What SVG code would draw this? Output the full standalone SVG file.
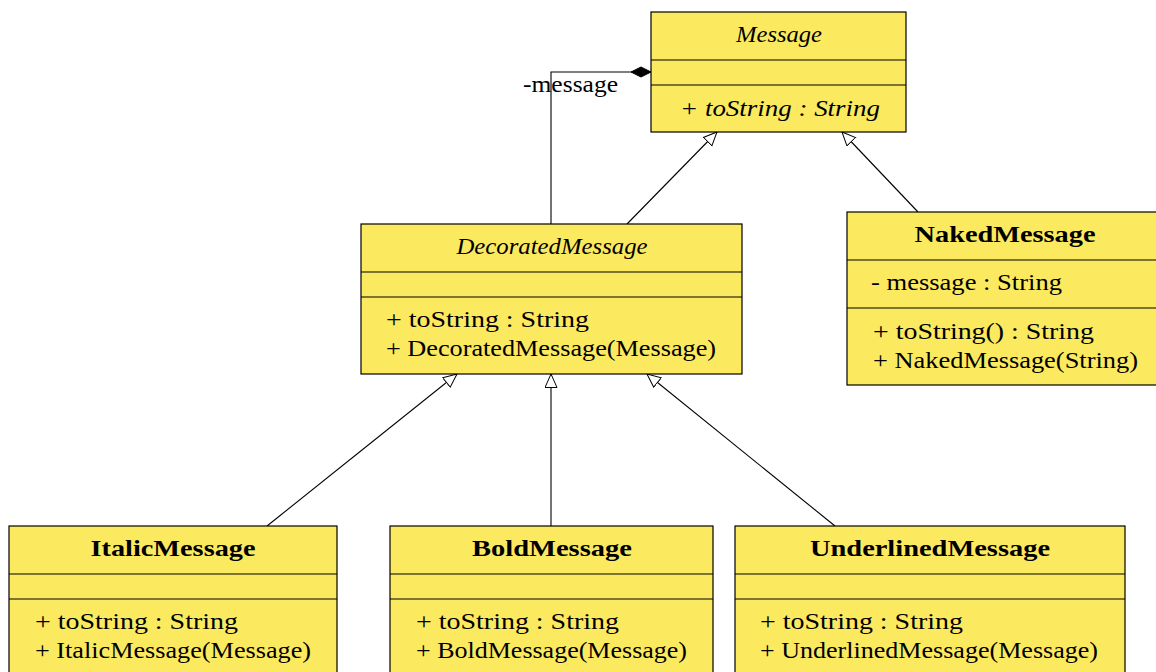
<svg xmlns="http://www.w3.org/2000/svg" width="1156" height="672" viewBox="0 0 1156 672">
<style>
.box{fill:#fbea5f;stroke:#000;stroke-width:1.2}
.div{stroke:#000;stroke-width:1.2}
text{font-family:"Liberation Serif","Times New Roman",serif;font-size:24px;fill:#000}
.t{text-anchor:middle}
.b{font-weight:bold}
.i{font-style:italic}
.edge{fill:none;stroke:#000;stroke-width:1.1}
</style>
<defs>
<marker id="tri" markerUnits="userSpaceOnUse" markerWidth="16" markerHeight="14" refX="14" refY="6.5" orient="auto">
<path d="M0.5,0.5 L14,6.5 L0.5,12.5 z" fill="#fff" stroke="#000" stroke-width="1"/>
</marker>
<marker id="dia" markerUnits="userSpaceOnUse" markerWidth="22" markerHeight="12" refX="21" refY="6" orient="auto">
<path d="M1,6 L11,1 L21,6 L11,11 z" fill="#000" stroke="#000" stroke-width="1"/>
</marker>
</defs>
<rect width="1156" height="672" fill="#fff"/>
<g id="connectors">
<path class="edge" d="M627,224 L717,132" marker-end="url(#tri)"/>
<path class="edge" d="M918,212 L842,132" marker-end="url(#tri)"/>
<path class="edge" d="M267,526 L457,374" marker-end="url(#tri)"/>
<path class="edge" d="M551,526 L551,374" marker-end="url(#tri)"/>
<path class="edge" d="M835,526 L647,374" marker-end="url(#tri)"/>
<path class="edge" d="M551,224 L551,72 L651,72" marker-end="url(#dia)"/>
<text x="523" y="92" textLength="95" lengthAdjust="spacingAndGlyphs">-message</text>
</g>
<g id="Message">
<rect class="box" x="651" y="12" width="255" height="120"/>
<line class="div" x1="651" y1="60" x2="906" y2="60"/>
<line class="div" x1="651" y1="85" x2="906" y2="85"/>
<text class="t i" x="779" y="42" textLength="86" lengthAdjust="spacingAndGlyphs">Message</text>
<text class="i" x="680" y="116" textLength="200" lengthAdjust="spacingAndGlyphs">+ toString : String</text>
</g>
<g id="DecoratedMessage">
<rect class="box" x="361" y="224" width="381" height="150"/>
<line class="div" x1="361" y1="272" x2="742" y2="272"/>
<line class="div" x1="361" y1="297" x2="742" y2="297"/>
<text class="t i" x="552" y="254" textLength="191" lengthAdjust="spacingAndGlyphs">DecoratedMessage</text>
<text x="386" y="327" textLength="203" lengthAdjust="spacingAndGlyphs">+ toString : String</text>
<text x="386" y="356" textLength="330" lengthAdjust="spacingAndGlyphs">+ DecoratedMessage(Message)</text>
</g>
<g id="NakedMessage">
<rect class="box" x="847" y="212" width="320" height="173"/>
<line class="div" x1="847" y1="260" x2="1167" y2="260"/>
<line class="div" x1="847" y1="308" x2="1167" y2="308"/>
<text class="t b" x="1005" y="242" textLength="181" lengthAdjust="spacingAndGlyphs">NakedMessage</text>
<text x="871" y="290" textLength="191" lengthAdjust="spacingAndGlyphs">- message : String</text>
<text x="873" y="339" textLength="221" lengthAdjust="spacingAndGlyphs">+ toString() : String</text>
<text x="873" y="368" textLength="265" lengthAdjust="spacingAndGlyphs">+ NakedMessage(String)</text>
</g>
<g id="ItalicMessage">
<rect class="box" x="9" y="526" width="328" height="160"/>
<line class="div" x1="9" y1="574" x2="337" y2="574"/>
<line class="div" x1="9" y1="599" x2="337" y2="599"/>
<text class="t b" x="173" y="556" textLength="165" lengthAdjust="spacingAndGlyphs">ItalicMessage</text>
<text x="35" y="629" textLength="203" lengthAdjust="spacingAndGlyphs">+ toString : String</text>
<text x="35" y="658" textLength="276" lengthAdjust="spacingAndGlyphs">+ ItalicMessage(Message)</text>
</g>
<g id="BoldMessage">
<rect class="box" x="390" y="526" width="323" height="160"/>
<line class="div" x1="390" y1="574" x2="713" y2="574"/>
<line class="div" x1="390" y1="599" x2="713" y2="599"/>
<text class="t b" x="552" y="556" textLength="160" lengthAdjust="spacingAndGlyphs">BoldMessage</text>
<text x="416" y="629" textLength="203" lengthAdjust="spacingAndGlyphs">+ toString : String</text>
<text x="416" y="658" textLength="271" lengthAdjust="spacingAndGlyphs">+ BoldMessage(Message)</text>
</g>
<g id="UnderlinedMessage">
<rect class="box" x="735" y="526" width="390" height="160"/>
<line class="div" x1="735" y1="574" x2="1125" y2="574"/>
<line class="div" x1="735" y1="599" x2="1125" y2="599"/>
<text class="t b" x="930" y="556" textLength="240" lengthAdjust="spacingAndGlyphs">UnderlinedMessage</text>
<text x="760" y="629" textLength="203" lengthAdjust="spacingAndGlyphs">+ toString : String</text>
<text x="760" y="658" textLength="338" lengthAdjust="spacingAndGlyphs">+ UnderlinedMessage(Message)</text>
</g>
</svg>
